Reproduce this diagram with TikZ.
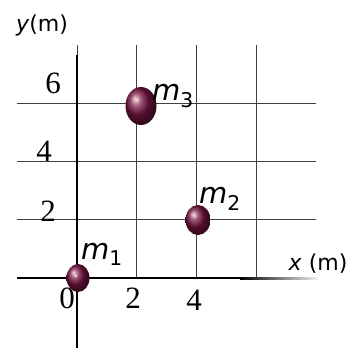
\documentclass[tikz,border=0pt]{standalone}
\usepackage{fontspec}
\setmainfont{Liberation Serif}
\newfontfamily\lblfont{DejaVu Sans}
\begin{document}
\begin{tikzpicture}[x=1pt,y=-1pt,
  gridline/.style={draw=black!75,line width=0.9pt},
  axisline/.style={draw=black,line width=1.4pt},
  num/.style={font=\fontsize{31}{31}\selectfont,inner sep=0pt},
  mlbl/.style={font=\lblfont\itshape\fontsize{29}{29}\selectfont,inner sep=0pt},
  axlbl/.style={font=\lblfont\fontsize{22}{22}\selectfont,inner sep=0pt},
  mass/.style={ball color={rgb,255:red,120;green,20;blue,65}}]
\useasboundingbox (0,0) rectangle (351,350);
% grid
\foreach \gx in {77,136,196,256}{\draw[gridline] (\gx,45) -- (\gx,278);}
\foreach \gy in {103,161,219}{\draw[gridline] (17,\gy) -- (316,\gy);}
% axes
\coordinate (yt) at (77,55);
\coordinate (yb) at (77,348);
\draw[axisline] (yt) -- (yb);
\coordinate (xl) at (17,278);
\coordinate (xm) at (240,278);
\draw[axisline] (xl) -- (xm);
\shade[left color=black,right color=black!5] (240,277.3) rectangle (318,279.1);
% tick labels
\node[num] (y6) at (53,83) {6};
\node[num] (y4) at (44,151) {4};
\node[num] (y2) at (48,211) {2};
\node[num] (x0) at (67,298) {0};
\node[num] (x2) at (133,298) {2};
\node[num] (x4) at (194,300) {4};
% axis labels
\node[axlbl] (ylab) at (42,25) {\textit{y}(m)};
\node[axlbl] (xlab) at (318,264) {\textit{x} (m)};
% masses
\coordinate (c1) at (78,278);
\coordinate (c2) at (198,220);
\coordinate (c3) at (141,106);
\shade[mass] (c1) ellipse (11.5 and 14);
\shade[mass] (c2) ellipse (12.5 and 15);
\shade[mass] (c3) ellipse (15.5 and 19);
\fill[pink] (76,276) circle (1.6);
\fill[pink] (195,216) circle (1.6);
\fill[pink] (137,100) circle (2);
% labels
\node[mlbl] (m1) at (102,254) {m\textsubscript{\upshape 1}};
\node[mlbl] (m2) at (220,199) {m\textsubscript{\upshape 2}};
\node[mlbl] (m3) at (173,96) {m\textsubscript{\upshape 3}};
\end{tikzpicture}
\end{document}
